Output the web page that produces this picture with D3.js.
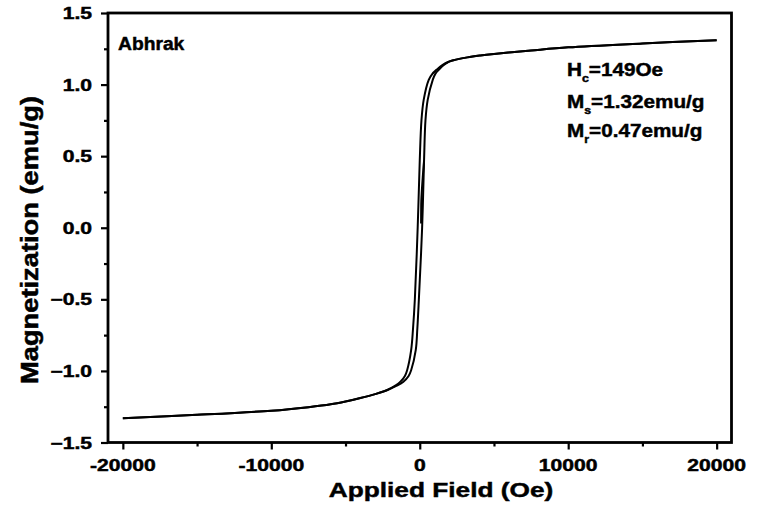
<!DOCTYPE html>
<html>
<head>
<meta charset="utf-8">
<script src="https://cdn.jsdelivr.net/npm/d3@7"></script>
<style>
  html, body { margin: 0; padding: 0; background: #fff; }
  svg { display: block; }
  text { font-family: "Liberation Sans", Arial, sans-serif; font-weight: bold; fill: #000; stroke: #000; stroke-width: 0.45px; }
</style>
</head>
<body>
<svg id="chart" width="761" height="505"></svg>
<script>
// Descending branch of the loop (field swept from +20 kOe to -20 kOe)
const descField = [20000, 15000, 10000, 7500, 6200, 5000, 4080, 3210, 2270, 1900, 1500, 1150, 850, 605, 265, 115, 0, -140, -330, -450, -580, -850, -1000, -1300, -1650, -1975, -2400, -3000, -4000, -5000, -6000, -7500, -10000, -15000, -20000];
const descMag   = [1.31, 1.287, 1.26, 1.238, 1.226, 1.214, 1.203, 1.19, 1.17, 1.158, 1.135, 1.105, 1.075, 1.033, 0.893, 0.75, 0.47, 0.0, -0.5, -0.7, -0.855, -0.995, -1.035, -1.075, -1.103, -1.123, -1.142, -1.162, -1.189, -1.213, -1.233, -1.253, -1.278, -1.307, -1.33];

// Ascending branch (field swept from -20 kOe back to +20 kOe)
const ascField = [-20000, -15000, -10000, -7500, -6000, -5000, -4000, -3000, -2400, -1975, -1550, -1100, -750, -580, -270, -160, -60, 160, 290, 385, 535, 875, 1050, 1300, 1600, 1950, 2270, 3210, 4080, 5000, 6200, 7500, 10000, 15000, 20000];
const ascMag   = [-1.33, -1.307, -1.278, -1.253, -1.233, -1.213, -1.189, -1.162, -1.142, -1.123, -1.103, -1.075, -1.035, -0.995, -0.855, -0.7, -0.5, 0.0, 0.47, 0.75, 0.893, 1.033, 1.075, 1.105, 1.135, 1.158, 1.17, 1.19, 1.203, 1.214, 1.226, 1.238, 1.26, 1.287, 1.31];

// Initial magnetization segment near the origin
const virginField = [90, 95, 105, 200, 290];
const virginMag   = [0.03, 0.12, 0.19, 0.35, 0.47];

const xTicks = [-20000, -10000, 0, 10000, 20000];
const xMinor = [-15000, -5000, 5000, 15000];
const yTicks = [-1.5, -1.0, -0.5, 0.0, 0.5, 1.0, 1.5];
const yMinor = [-1.25, -0.75, -0.25, 0.25, 0.75, 1.25];

const sampleName = "Abhrak";
const xTitle = "Applied Field (Oe)";
const yTitle = "Magnetization (emu/g)";
const notes = [
  { main: "H", sub: "c", rest: "=149Oe" },
  { main: "M", sub: "s", rest: "=1.32emu/g" },
  { main: "M", sub: "r", rest: "=0.47emu/g" }
];

const svg = d3.select("#chart");
const L = 108, R = 731.5, T = 13, B = 442.5;

const x = d3.scaleLinear().domain([-21000, 21000]).range([L, R]);
const y = d3.scaleLinear().domain([-1.5, 1.5]).range([B, T]);

// Tick marks (outward) via d3 axes, labels drawn separately
const gx = svg.append("g").attr("transform", `translate(0,${B})`)
  .call(d3.axisBottom(x).tickValues(xTicks).tickSize(7).tickFormat(""));
const gxm = svg.append("g").attr("transform", `translate(0,${B})`)
  .call(d3.axisBottom(x).tickValues(xMinor).tickSize(4).tickFormat(""));
const gy = svg.append("g").attr("transform", `translate(${L},0)`)
  .call(d3.axisLeft(y).tickValues(yTicks).tickSize(7).tickFormat(""));
const gym = svg.append("g").attr("transform", `translate(${L},0)`)
  .call(d3.axisLeft(y).tickValues(yMinor).tickSize(4).tickFormat(""));
[gx, gxm, gy, gym].forEach(g => {
  g.select(".domain").remove();
  g.selectAll("line").attr("stroke", "#000").attr("stroke-width", 2.2);
});

// Frame
svg.append("rect")
  .attr("x", L).attr("y", T).attr("width", R - L).attr("height", B - T)
  .attr("fill", "none").attr("stroke", "#000").attr("stroke-width", 2.8);

// Horizontally stretched text helper
function label(txt, px, py, size, anchor, sx) {
  return svg.append("text")
    .attr("transform", `translate(${px},${py}) scale(${sx},1)`)
    .attr("text-anchor", anchor)
    .attr("font-size", size)
    .text(txt);
}

const fmtY = d => d3.format(".1f")(d);
yTicks.forEach(v => label(fmtY(v), 92, y(v) + 6, 16, "end", 1.32));
xTicks.forEach(v => label(String(v), x(v), 471, 16, "middle", 1.32));

label(xTitle, 441, 497, 21, "middle", 1.25);
svg.append("text")
  .attr("transform", `translate(38,240) rotate(-90) scale(1.3,1.12)`)
  .attr("text-anchor", "middle")
  .attr("font-size", 21)
  .text(yTitle);

label(sampleName, 118, 50, 18, "start", 1.07);

// Loop curves
const line = d3.line().x(d => x(d[0])).y(d => y(d[1])).curve(d3.curveCatmullRom.alpha(0.5));
const toPts = (f, m) => f.map((h, i) => [h, m[i]]);
const g = svg.append("g").attr("fill", "none").attr("stroke", "#000").attr("stroke-width", 2)
  .attr("stroke-linejoin", "round");
g.append("path").attr("d", line(toPts(descField, descMag)));
g.append("path").attr("d", line(toPts(ascField, ascMag)));
g.append("path").attr("d", line(toPts(virginField, virginMag)));

// Loop parameters
const baselines = [76, 108, 137];
notes.forEach((n, i) => {
  const t = svg.append("text")
    .attr("transform", `translate(567,${baselines[i]}) scale(1.12,1)`)
    .attr("font-size", 18.5);
  t.append("tspan").text(n.main);
  t.append("tspan").attr("font-size", 11).attr("dy", 6).text(n.sub);
  t.append("tspan").attr("dy", -6).text(n.rest);
});
</script>
</body>
</html>
